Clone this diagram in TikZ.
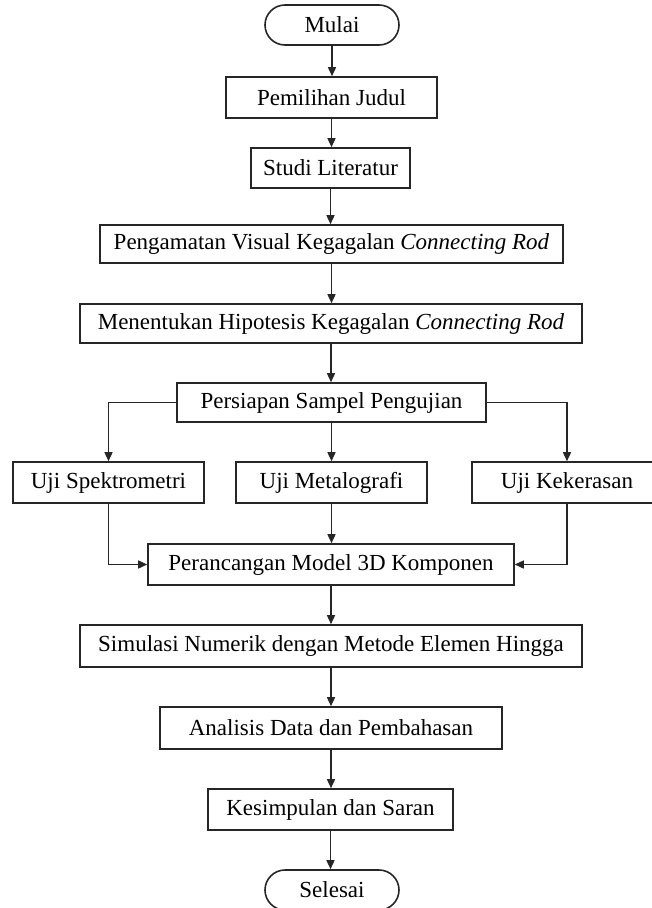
\documentclass[tikz,border=0pt]{standalone}
\usepackage{fontspec}
\setmainfont{Liberation Serif}
\usetikzlibrary{arrows.meta}
\begin{document}
\begin{tikzpicture}[x=1pt,y=-1pt,
  box/.style={draw=black!85, line width=1.6pt, rectangle, inner sep=0pt, font=\fontsize{23}{27}\selectfont, text=black},
  term/.style={box, rounded corners=20pt},
  arr/.style={draw=black!85, line width=1.5pt, -{Triangle[length=9pt,width=8pt]}}]
\useasboundingbox (0,0) rectangle (652,908);
\clip (0,0) rectangle (652,908);
\node[term, minimum width=134pt, minimum height=40pt] (mulai) at (332,25) {Mulai};
\node[box, minimum width=211pt, minimum height=41pt] (pem) at (331.5,97.5) {Pemilihan Judul};
\node[box, minimum width=159pt, minimum height=40pt] (studi) at (330.5,168) {Studi Literatur};
\node[box, minimum width=463pt, minimum height=38pt] (peng) at (331.5,244) {Pengamatan Visual Kegagalan \textit{Connecting Rod}};
\node[box, minimum width=502pt, minimum height=39pt] (men) at (331,323.5) {Menentukan Hipotesis Kegagalan \textit{Connecting Rod}};
\node[box, minimum width=309pt, minimum height=39pt] (pers) at (331.5,402.5) {Persiapan Sampel Pengujian};
\node[box, minimum width=191pt, minimum height=41pt] (spek) at (108.5,482.5) {Uji Spektrometri};
\node[box, minimum width=191pt, minimum height=41pt] (meta) at (331.5,482.5) {Uji Metalografi};
\node[box, minimum width=190pt, minimum height=41pt] (keker) at (567,482.5) {Uji Kekerasan};
\node[box, minimum width=366pt, minimum height=41pt] (peran) at (331,564.5) {Perancangan Model 3D Komponen};
\node[box, minimum width=502pt, minimum height=42pt] (sim) at (331,646) {Simulasi Numerik dengan Metode Elemen Hingga};
\node[box, minimum width=342pt, minimum height=42pt] (ana) at (331,728) {Analisis Data dan Pembahasan};
\node[box, minimum width=245pt, minimum height=41pt] (kes) at (330.5,809.5) {Kesimpulan dan Saran};
\node[term, minimum width=134pt, minimum height=40pt] (sel) at (332,890) {Selesai};
\draw[arr] (mulai.south) -- (mulai.south |- pem.north);
\draw[arr] (pem.south) -- (pem.south |- studi.north);
\draw[arr] (studi.south) -- (studi.south |- peng.north);
\draw[arr] (peng.south) -- (peng.south |- men.north);
\draw[arr] (men.south) -- (men.south |- pers.north);
\draw[arr] (pers.west) -| (spek.north);
\draw[arr] (pers.east) -| (keker.north);
\draw[arr] (pers.south) -- (pers.south |- meta.north);
\draw[arr] (spek.south) |- (peran.west);
\draw[arr] (keker.south) |- (peran.east);
\draw[arr] (meta.south) -- (meta.south |- peran.north);
\draw[arr] (peran.south) -- (peran.south |- sim.north);
\draw[arr] (sim.south) -- (sim.south |- ana.north);
\draw[arr] (ana.south) -- (ana.south |- kes.north);
\draw[arr] (kes.south) -- (kes.south |- sel.north);
\end{tikzpicture}
\end{document}
